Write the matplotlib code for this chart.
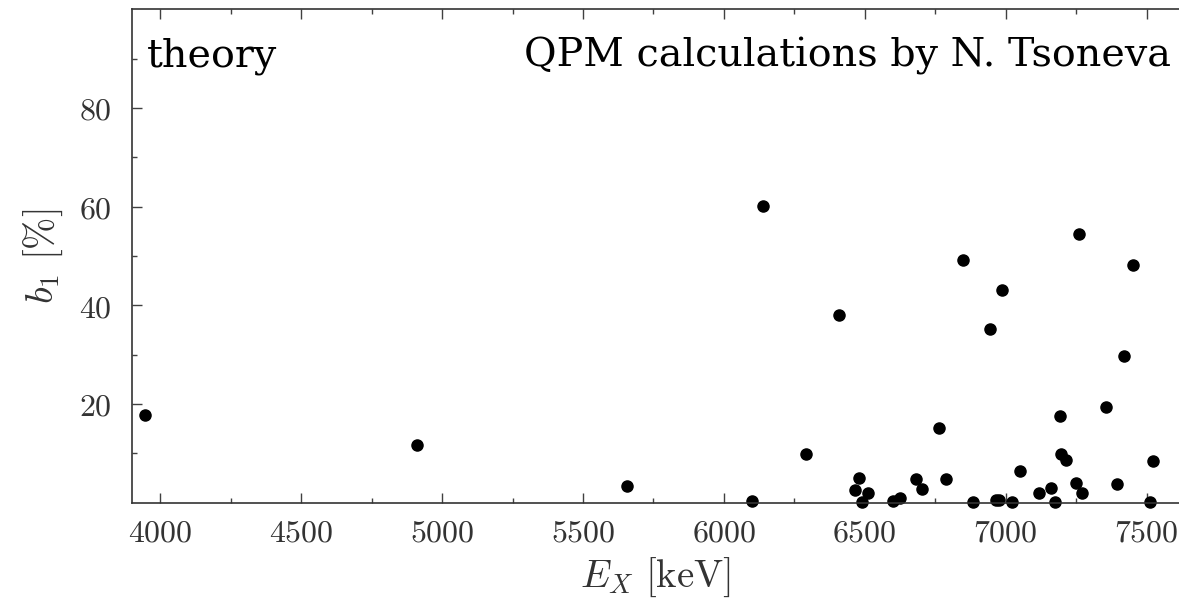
import matplotlib as mpl
mpl.use('Agg')
import matplotlib.pyplot as plt
import matplotlib.ticker as ticker

# excitation energy (keV) and ground-state branching b1 (%)
energy = [3946, 4910, 5657, 6101, 6138, 6290, 6408, 6466, 6481, 6491,
          6511, 6599, 6626, 6680, 6703, 6763, 6789, 6850, 6885, 6945,
          6966, 6978, 6986, 7021, 7051, 7118, 7162, 7175, 7193, 7196,
          7214, 7248, 7261, 7271, 7357, 7395, 7421, 7450, 7513, 7524]
b1 = [17.8, 11.6, 3.4, 0.4, 60.1, 9.9, 38.1, 2.6, 5.1, 0.2,
      1.9, 0.3, 1.0, 4.8, 2.7, 15.2, 4.8, 49.2, 0.1, 35.2,
      0.5, 0.5, 43.1, 0.1, 6.4, 2.0, 2.9, 0.1, 17.5, 9.8,
      8.6, 3.9, 54.5, 2.0, 19.4, 3.7, 29.7, 48.2, 0.2, 8.5]

xticks = [4000, 4500, 5000, 5500, 6000, 6500, 7000, 7500]
yticks = [20, 40, 60, 80]

plt.rcParams['mathtext.fontset'] = 'cm'

fig = plt.figure(figsize=(11.79, 6.02), dpi=100)
ax = fig.add_axes([0.112, 0.165, 0.888, 0.8196])

ax.plot(energy, b1, 'o', color='black', markersize=8, clip_on=False)

ax.set_xlim(3900, 7615)
ax.set_ylim(0, 100)

ax.xaxis.set_major_locator(ticker.FixedLocator(xticks))
ax.xaxis.set_minor_locator(ticker.MultipleLocator(250))
ax.set_xticklabels([r'$%d$' % v for v in xticks])
ax.yaxis.set_major_locator(ticker.FixedLocator(yticks))
ax.yaxis.set_minor_locator(ticker.FixedLocator([10, 30, 50, 70, 90]))
ax.set_yticklabels([r'$%d$' % v for v in yticks])

ax.tick_params(which='both', direction='in', top=True, right=False,
               width=1.0, color='0.25', labelcolor='0.2', labelsize=23)
ax.tick_params(which='major', length=7.5)
ax.tick_params(which='minor', length=3.6)
ax.tick_params(axis='x', pad=11)
ax.tick_params(axis='y', pad=15)

ax.spines['right'].set_visible(False)
for s in ['left', 'bottom', 'top']:
    ax.spines[s].set_linewidth(1.2)
    ax.spines[s].set_color('0.2')

ax.set_xlabel(r'$E_X\ [\mathrm{keV}]$', fontsize=28, color='0.2', labelpad=5)
ax.set_ylabel(r'$b_1\ [\%]$', fontsize=28, color='0.2', labelpad=10)

ax.text(0.0143, 0.883, 'theory', transform=ax.transAxes,
        fontsize=28.5, family='DejaVu Serif', va='baseline', ha='left')
ax.text(0.992, 0.883, 'QPM calculations by N. Tsoneva', transform=ax.transAxes,
        fontsize=28.5, family='DejaVu Serif', va='baseline', ha='right')

fig.savefig('out.png', dpi=100)
